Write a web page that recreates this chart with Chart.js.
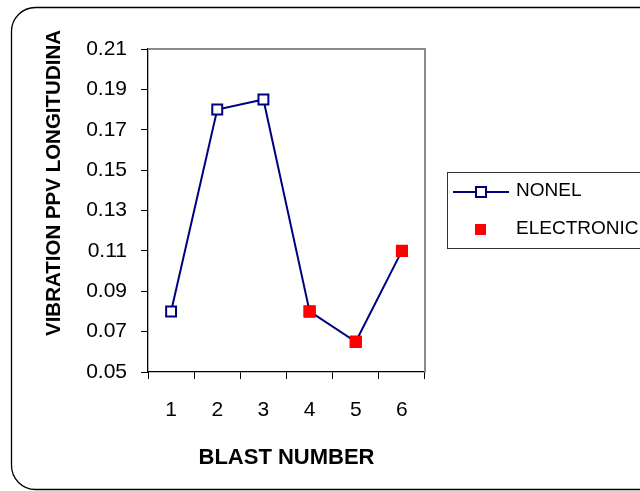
<!DOCTYPE html>
<html>
<head>
<meta charset="utf-8">
<script src="https://cdn.jsdelivr.net/npm/chart.js@4"></script>
<style>
  body { margin: 0; background: #fff; }
  #wrap { width: 640px; height: 491px; }
</style>
</head>
<body>
<div id="wrap"><canvas id="blastChart" width="640" height="491"></canvas></div>
<script>
const blastNumbers = ['1', '2', '3', '4', '5', '6'];
const nonelValues = [0.08, 0.18, 0.185, 0.08, 0.065, 0.11];
const electronicValues = [null, null, null, 0.08, 0.065, 0.11];
const yMin = 0.05;
const yMax = 0.21;
const yStep = 0.02;

const yTitle = 'VIBRATION PPV LONGITUDINA';
const xTitle = 'BLAST NUMBER';

const NAVY = '#000080';
const RED = '#ff0000';
const FONT = '"Liberation Sans", Arial, sans-serif';

// frame, legend and axis titles are drawn by hand
const decorPlugin = {
  id: 'decor',
  beforeDraw(chart) {
    const ctx = chart.ctx;
    ctx.save();
    ctx.fillStyle = '#fff';
    ctx.fillRect(0, 0, chart.width, chart.height);
    // rounded outer box
    ctx.strokeStyle = '#000';
    ctx.lineWidth = 1.3;
    ctx.beginPath();
    ctx.roundRect(11.5, 7.5, 680, 482, 24);
    ctx.stroke();
    ctx.restore();
  },
  afterDraw(chart) {
    const ctx = chart.ctx;
    const a = chart.chartArea;
    ctx.save();
    // grey top/right edges of plot frame
    ctx.strokeStyle = '#8c8c8c';
    ctx.lineWidth = 2;
    ctx.beginPath();
    ctx.moveTo(a.left, a.top);
    ctx.lineTo(a.right, a.top);
    ctx.lineTo(a.right, a.bottom);
    ctx.stroke();

    // axis titles
    ctx.fillStyle = '#000';
    ctx.font = 'bold 22px ' + FONT;
    ctx.textAlign = 'center';
    ctx.textBaseline = 'middle';
    ctx.fillText(xTitle, (a.left + a.right) / 2, 458);
    ctx.save();
    ctx.translate(53, 183);
    ctx.rotate(-Math.PI / 2);
    ctx.font = 'bold 20.5px ' + FONT;
    ctx.fillText(yTitle, 0, 1);
    ctx.restore();

    // legend
    ctx.strokeStyle = '#333';
    ctx.lineWidth = 1;
    ctx.strokeRect(447.5, 172.5, 260, 76);
    ctx.strokeStyle = NAVY;
    ctx.lineWidth = 2;
    ctx.beginPath();
    ctx.moveTo(453, 192);
    ctx.lineTo(509, 192);
    ctx.stroke();
    ctx.fillStyle = '#fff';
    ctx.fillRect(476, 187, 10, 10);
    ctx.strokeRect(476, 187, 10, 10);
    ctx.fillStyle = RED;
    ctx.fillRect(475, 224, 11, 11);

    ctx.fillStyle = '#000';
    ctx.font = '19px ' + FONT;
    ctx.textAlign = 'left';
    ctx.fillText('NONEL', 516, 191);
    ctx.fillText('ELECTRONIC', 516, 229);
    ctx.restore();
  }
};

new Chart(document.getElementById('blastChart'), {
  type: 'line',
  data: {
    labels: blastNumbers,
    datasets: [
      {
        label: 'ELECTRONIC',
        data: electronicValues,
        showLine: false,
        pointStyle: 'rect',
        pointRadius: 8.5,
        pointBackgroundColor: RED,
        pointBorderColor: RED,
        pointBorderWidth: 0,
        order: 0
      },
      {
        label: 'NONEL',
        data: nonelValues,
        borderColor: NAVY,
        borderWidth: 2,
        tension: 0,
        pointStyle: 'rect',
        pointRadius: 7,
        pointBackgroundColor: '#fff',
        pointBorderColor: NAVY,
        pointBorderWidth: 2,
        order: 1
      }
    ]
  },
  options: {
    responsive: false,
    animation: false,
    events: [],
    layout: { padding: { top: 49, right: 215, left: 0, bottom: 0 } },
    plugins: {
      legend: { display: false },
      tooltip: { enabled: false }
    },
    scales: {
      x: {
        offset: true,
        afterFit: (s) => { s.height = 119; },
        grid: {
          offset: true,
          drawOnChartArea: false,
          drawTicks: true,
          tickLength: 7,
          color: '#000'
        },
        border: { display: true, color: '#000', width: 1.3 },
        ticks: {
          color: '#000',
          padding: 19,
          maxRotation: 0,
          font: { family: FONT, size: 21 }
        }
      },
      y: {
        min: yMin,
        max: yMax,
        afterFit: (s) => { s.width = 148; },
        grid: {
          drawOnChartArea: false,
          drawTicks: true,
          tickLength: 7,
          color: '#000'
        },
        border: { display: true, color: '#000', width: 1.3 },
        ticks: {
          stepSize: yStep,
          color: '#000',
          padding: 14,
          callback: (v) => v.toFixed(2),
          font: { family: FONT, size: 21 }
        }
      }
    }
  },
  plugins: [decorPlugin]
});
</script>
</body>
</html>
